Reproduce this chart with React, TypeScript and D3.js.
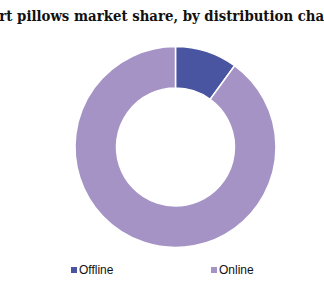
import React from "react";
import * as d3 from "d3";

const categories = ["Offline", "Online"];
const shares = [10, 90];
const colors = ["#4a55a2", "#a593c6"];
const title = "Smart pillows market share, by distribution channel";

export default function App() {
  const width = 324;
  const height = 300;
  const cx = 175.5;
  const cy = 147;
  const outerR = 100.5;
  const innerR = 59;

  const pie = d3.pie<number>().sort(null).value((d) => d);
  const arcs = pie(shares);
  const arcGen = d3.arc<d3.PieArcDatum<number>>().innerRadius(innerR).outerRadius(outerR);

  const legendX = [71, 211];

  return (
    <div style={{ position: "fixed", left: 0, top: 0 }}>
      <svg width={width} height={height} style={{ display: "block", background: "#fff" }}>
        <text
          x={162}
          y={21}
          textAnchor="middle"
          fontFamily="DejaVu Serif"
          fontWeight="bold"
          fontSize={14.5}
          textLength={390}
          lengthAdjust="spacingAndGlyphs"
          fill="#111"
        >
          {title}
        </text>
        <g transform={`translate(${cx},${cy})`}>
          {arcs.map((a, i) => (
            <path key={i} d={arcGen(a) || ""} fill={colors[i]} stroke="#fff" strokeWidth={1.5} />
          ))}
        </g>
        {categories.map((c, i) => (
          <g key={c}>
            <rect x={legendX[i]} y={267} width={6} height={6} fill={colors[i]} />
            <text x={legendX[i] + 8} y={274} fontFamily="Liberation Sans" fontSize={12} fill="#111">
              {c}
            </text>
          </g>
        ))}
      </svg>
    </div>
  );
}
